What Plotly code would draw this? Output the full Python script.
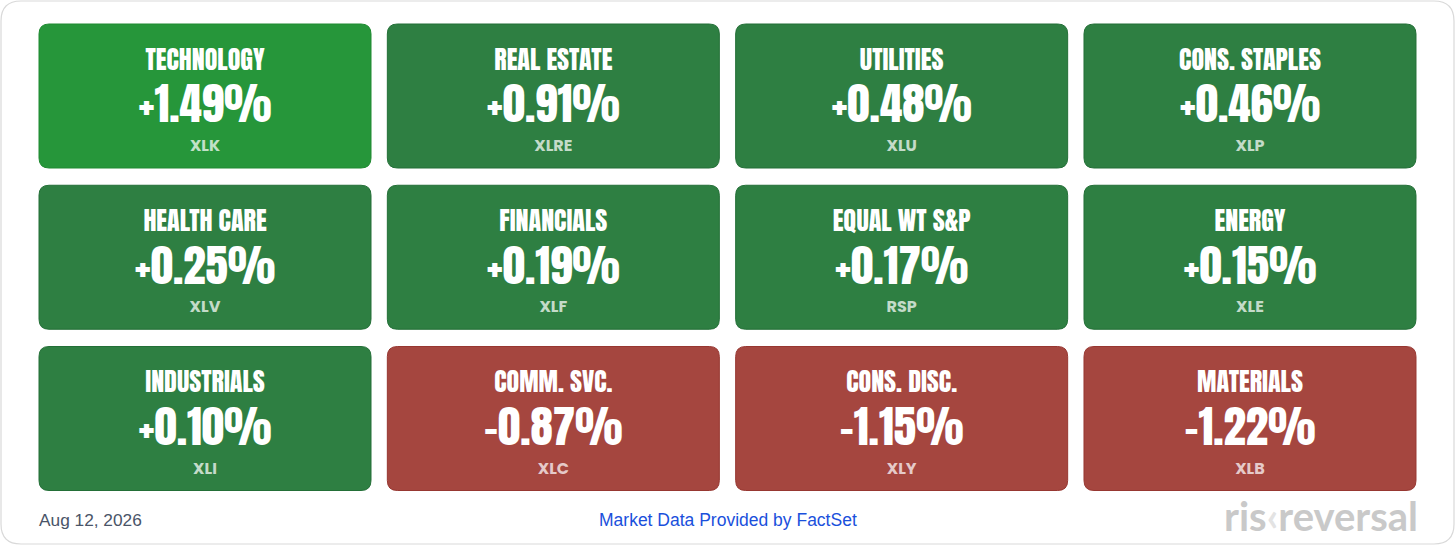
import plotly.graph_objects as go

# sector performance grid
sectors = ["TECHNOLOGY", "REAL ESTATE", "UTILITIES", "CONS. STAPLES",
           "HEALTH CARE", "FINANCIALS", "EQUAL WT S&P", "ENERGY",
           "INDUSTRIALS", "COMM. SVC.", "CONS. DISC.", "MATERIALS"]
changes = [1.49, 0.91, 0.48, 0.46,
           0.25, 0.19, 0.17, 0.15,
           0.10, -0.87, -1.15, -1.22]
tickers = ["XLK", "XLRE", "XLU", "XLP",
           "XLV", "XLF", "RSP", "XLE",
           "XLI", "XLC", "XLY", "XLB"]
date_label = "Aug 12, 2026"
source_label = "Market Data Provided by FactSet"

W, H = 1456, 546
NCOLS = 4
# pixel scale of one grid step (used to size tiles & corners)
PX_X = 348.33
PX_Y = 161.25
HALF_W = 166 / PX_X
HALF_H = 72 / PX_Y
RX = 10 / PX_X
RY = 10 / PX_Y


def tile_color(v):
    if v >= 1:
        return "#26963a", "#1f8a31"
    if v > 0:
        return "#2e7f42", "#236f37"
    return "#a5463f", "#973731"


def rounded_path(x0, x1, y0, y1, rx, ry):
    return (f"M {x0+rx},{y0} L {x1-rx},{y0} Q {x1},{y0} {x1},{y0+ry} "
            f"L {x1},{y1-ry} Q {x1},{y1} {x1-rx},{y1} "
            f"L {x0+rx},{y1} Q {x0},{y1} {x0},{y1-ry} "
            f"L {x0},{y0+ry} Q {x0},{y0} {x0+rx},{y0} Z")


cols = [i % NCOLS for i in range(len(sectors))]
rows = [i // NCOLS for i in range(len(sectors))]

fig = go.Figure()

for c, r, v in zip(cols, rows, changes):
    fill, edge = tile_color(v)
    fig.add_shape(type="path", xref="x", yref="y",
                  path=rounded_path(c - HALF_W, c + HALF_W, r - HALF_H, r + HALF_H, RX, RY),
                  fillcolor=fill, line=dict(color=edge, width=1), layer="below")

title_font = "Anton, Oswald, 'Liberation Sans Narrow', 'DejaVu Sans Condensed', sans-serif"

fig.add_trace(go.Scatter(
    x=cols, y=[r - 33 / PX_Y for r in rows], mode="text", text=sectors,
    textfont=dict(family=title_font, size=26, color="white"),
    hoverinfo="skip", showlegend=False))

fig.add_trace(go.Scatter(
    x=cols, y=[r + 15 / PX_Y for r in rows], mode="text",
    text=[f"{v:+.2f}%" for v in changes],
    textfont=dict(family=title_font, size=45, color="white"),
    hoverinfo="skip", showlegend=False))

fig.add_trace(go.Scatter(
    x=cols, y=[r + 51 / PX_Y for r in rows], mode="text", text=tickers,
    textfont=dict(family="Poppins, 'Open Sans', sans-serif", size=16,
                  color="rgba(255,255,255,0.72)", weight="bold"),
    hoverinfo="skip", showlegend=False))

# outer card
fig.add_shape(type="path", xref="paper", yref="paper",
              path=rounded_path(1 / W, 1 - 2 / W, 1 - 1 / H, 2 / H, 20 / W, -20 / H),
              fillcolor="white", line=dict(color="#d9d9d9", width=1.2), layer="below")

fig.add_annotation(x=37 / W, y=1 - 520 / H, xref="paper", yref="paper",
                   text=date_label, showarrow=False, xanchor="left", yanchor="middle",
                   font=dict(family="Liberation Sans, Arial, sans-serif", size=17.3, color="#4a5468"))
fig.add_annotation(x=728 / W, y=1 - 520 / H, xref="paper", yref="paper",
                   text=source_label, showarrow=False, xanchor="center", yanchor="middle",
                   font=dict(family="Liberation Sans, Arial, sans-serif", size=17.5, color="#1a50dc"))
fig.add_annotation(x=1420 / W, y=1 - 516 / H, xref="paper", yref="paper",
                   text="ris<span style='color:#e3e3e3'>‹</span>reversal",
                   showarrow=False, xanchor="right", yanchor="middle",
                   font=dict(family="Lato, Inter, sans-serif", size=40, color="#c9c9c9", weight="bold"))

fig.update_xaxes(range=[-205 / PX_X, (W - 205) / PX_X], visible=False, fixedrange=True)
fig.update_yaxes(range=[(H - 96) / PX_Y, -96 / PX_Y], visible=False, fixedrange=True)
fig.update_layout(width=W, height=H, margin=dict(l=0, r=0, t=0, b=0),
                  paper_bgcolor="white", plot_bgcolor="rgba(0,0,0,0)")

fig.write_html("out.html", config={"displayModeBar": False},
               post_script="document.body.style.margin='0';document.body.style.overflow='hidden';")
